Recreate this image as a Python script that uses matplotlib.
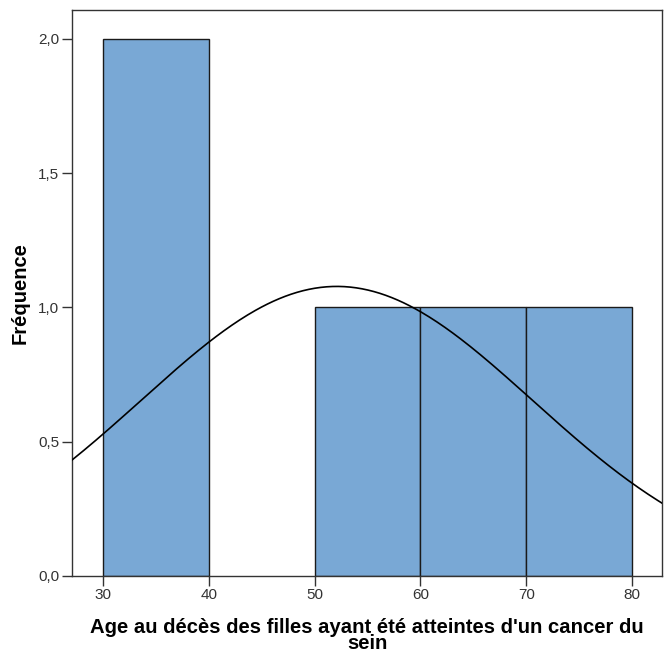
import numpy as np
import matplotlib
matplotlib.use("Agg")
from matplotlib import pyplot as plt

plt.rcParams['font.family'] = ['Liberation Sans', 'DejaVu Sans']

# histogram bins (age) and counts
bin_left = [30, 50, 60, 70]
bin_width = [10, 10, 10, 10]
counts = [2, 1, 1, 1]

# normal curve parameters
mean_age = 52.1
sd_age = 18.5
n_total = 5

x_ticks = [30, 40, 50, 60, 70, 80]
y_ticks = [0.0, 0.5, 1.0, 1.5, 2.0]

fig = plt.figure(figsize=(6.69, 6.59), dpi=100)
ax = fig.add_axes([0.1076, 0.126, 0.882, 0.859])

ax.bar(bin_left, counts, width=bin_width, align='edge', color='#79a8d5',
       edgecolor='#1a1a1a', linewidth=1.0, zorder=2)

xs = np.linspace(27.07, 82.84, 300)
ys = n_total * 10 / (sd_age * np.sqrt(2 * np.pi)) * np.exp(-0.5 * ((xs - mean_age) / sd_age) ** 2)
ax.plot(xs, ys, color='black', linewidth=1.2, zorder=3)

ax.set_xlim(27.07, 82.84)
ax.set_ylim(0, 2.108)
ax.set_xticks(x_ticks)
ax.set_yticks(y_ticks)
ax.set_yticklabels([f"{v:.1f}".replace('.', ',') for v in y_ticks])
ax.tick_params(direction='out', length=7, width=1, pad=2, labelsize=11, colors='#333333')
for s in ax.spines.values():
    s.set_color('#333333')
    s.set_linewidth(1)

ax.set_xlabel("Age au décès des filles ayant été atteintes d'un cancer du\nsein",
              fontsize=14.6, fontweight='bold', linespacing=0.85, labelpad=11)
ax.set_ylabel("Fréquence", fontsize=14.5, fontweight='bold', labelpad=6)

fig.savefig("out.png", dpi=100)
